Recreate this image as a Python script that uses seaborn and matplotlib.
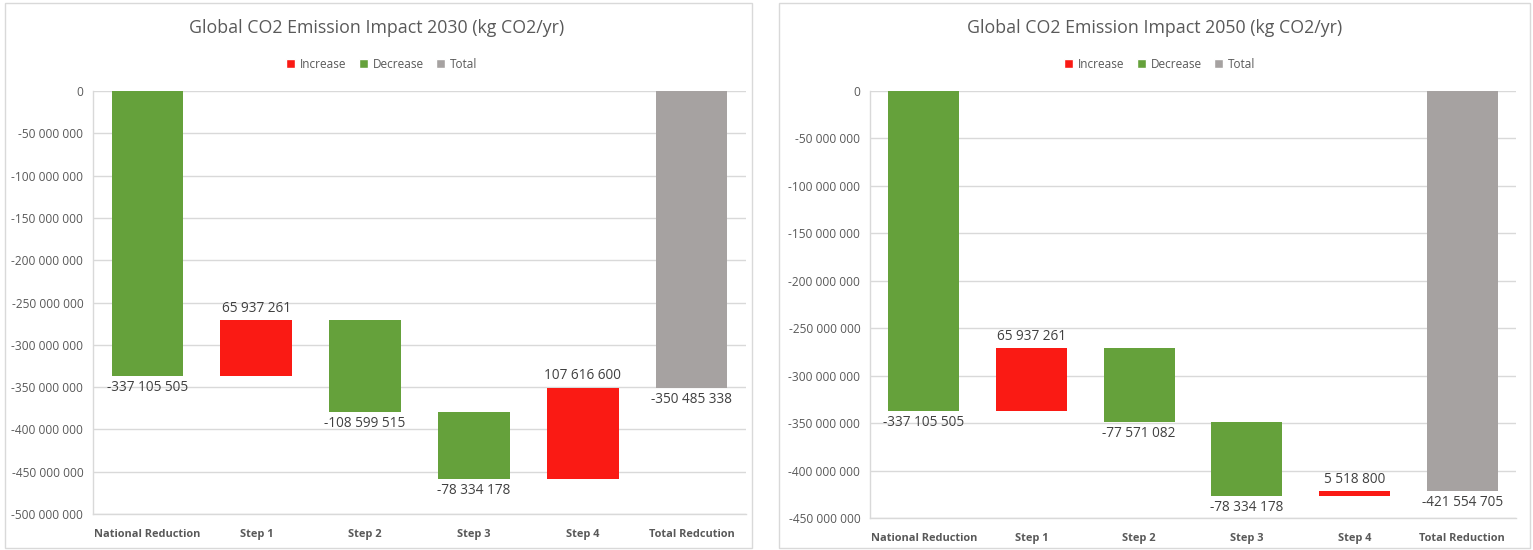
import numpy as np
import pandas as pd
import matplotlib.pyplot as plt
import seaborn as sns
from matplotlib.patches import Rectangle, Patch

# data
steps_2030 = ["National Reduction", "Step 1", "Step 2", "Step 3", "Step 4", "Total Redcution"]
steps_2050 = ["National Reduction", "Step 1", "Step 2", "Step 3", "Step 4", "Total Reduction"]
changes_2030 = [-337105505, 65937261, -108599515, -78334178, 107616600]
changes_2050 = [-337105505, 65937261, -77571082, -78334178, 5518800]
total_2030 = -350485338
total_2050 = -421554705
ymin_2030 = -500000000
ymin_2050 = -450000000

colors = {"Increase": "#FA1A14", "Decrease": "#65A13B", "Total": "#A6A2A1"}
text_grey = "#595959"
label_grey = "#404040"
grid_grey = "#D9D9D9"


def waterfall_table(steps, changes, total):
    rows = []
    level = 0
    for step, ch in zip(steps[:-1], changes):
        new = level + ch
        rows.append(dict(step=step, low=min(level, new), high=max(level, new),
                         value=ch, kind="Increase" if ch > 0 else "Decrease"))
        level = new
    rows.append(dict(step=steps[-1], low=total, high=0, value=total, kind="Total"))
    df = pd.DataFrame(rows)
    df["span"] = df["high"] - df["low"]
    return df


def fmt(v):
    return f"{int(v):,}".replace(",", " ")


sns.set_theme(style="white")
plt.rcParams["font.family"] = ["Open Sans", "DejaVu Sans"]

fig = plt.figure(figsize=(15.33, 5.5), dpi=100)

W, H = 1533, 550
panels = [
    (steps_2030, changes_2030, total_2030, ymin_2030, 2030,
     (93, 91, 746, 514), (5, 752), 377),
    (steps_2050, changes_2050, total_2050, ymin_2050, 2050,
     (870, 91, 1516, 518), (779, 1530), 1155),
]

for steps, changes, total, ymin, year, box, border, cx in panels:
    x0, y0, x1, y1 = box
    ax = fig.add_axes([x0 / W, 1 - y1 / H, (x1 - x0) / W, (y1 - y0) / H])
    df = waterfall_table(steps, changes, total)

    sns.barplot(data=df, x="step", y="span", order=steps, bottom=df["low"].values,
                color="#000000", width=0.66, errorbar=None, saturation=1,
                linewidth=0, ax=ax)
    for patch, kind in zip(ax.patches, df["kind"]):
        patch.set_facecolor(colors[kind])

    for i, row in df.iterrows():
        if row["kind"] == "Increase":
            ax.annotate(fmt(row["value"]), (i, row["high"]), xytext=(0, 3),
                        textcoords="offset points", ha="center", va="bottom",
                        fontsize=9.8, color=label_grey)
        else:
            ax.annotate(fmt(row["value"]), (i, row["low"]), xytext=(0, -3),
                        textcoords="offset points", ha="center", va="top",
                        fontsize=9.8, color=label_grey)

    ax.set_ylim(ymin, 0)
    ax.set_xlim(-0.5, len(steps) - 0.5)
    ax.set_yticks(np.arange(ymin, 1, 50000000))
    ax.yaxis.set_major_formatter(plt.FuncFormatter(lambda v, _: fmt(v)))
    ax.yaxis.grid(True, color=grid_grey, lw=1)
    ax.set_axisbelow(True)
    ax.set_xlabel("")
    ax.set_ylabel("")
    for s in ["top", "right"]:
        ax.spines[s].set_visible(False)
    for s in ["left", "bottom"]:
        ax.spines[s].set_color(grid_grey)
        ax.spines[s].set_linewidth(1)
    ax.tick_params(axis="y", length=0, pad=7, labelsize=8.6, labelcolor=text_grey)
    ax.tick_params(axis="x", length=0, pad=11, labelsize=7.9, labelcolor=text_grey)
    for lbl in ax.get_xticklabels():
        lbl.set_fontweight("bold")

    fig.text(cx / W, 1 - 28 / H, f"Global CO2 Emission Impact {year} (kg CO2/yr)",
             ha="center", va="center", fontsize=12.8, color=text_grey)
    handles = [Patch(facecolor=colors[k], label=k) for k in ["Increase", "Decrease", "Total"]]
    fig.legend(handles=handles, loc="center", bbox_to_anchor=(cx / W + 0.003, 1 - 64 / H),
               ncol=3, frameon=False, fontsize=8.5, handlelength=0.8, handleheight=0.8,
               handletextpad=0.4, columnspacing=1.0, labelcolor=text_grey)

    bx0, bx1 = border
    fig.add_artist(Rectangle((bx0 / W, 2 / H), (bx1 - bx0) / W, 545 / H,
                             transform=fig.transFigure, fill=False,
                             ec=grid_grey, lw=1))

fig.savefig("out.png", dpi=100)
